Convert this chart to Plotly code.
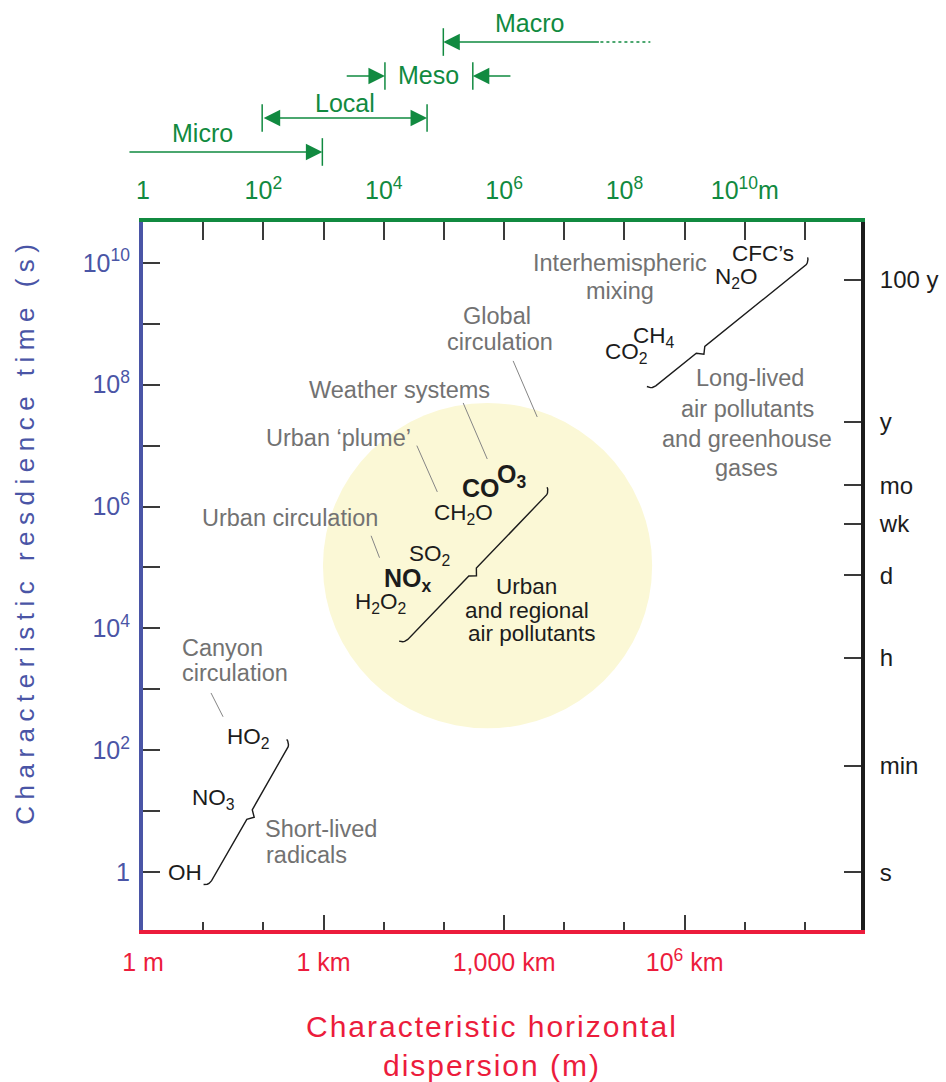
import numpy as np
import plotly.graph_objects as go

# ---------------- data (all positions in log10 units) ----------------
X_RANGE = [0, 11.93]          # log10 of horizontal dispersion (m)
Y_RANGE = [-0.95, 10.67]      # log10 of residence time (s)

bottom_tick_vals = [0, 3, 6, 9]
bottom_tick_text = ["1 m", "1 km", "1,000 km", "10<sup>6</sup> km"]

top_tick_vals = list(range(0, 12))
top_tick_text = ["1", "", "10<sup>2</sup>", "", "10<sup>4</sup>", "", "10<sup>6</sup>", "",
                 "10<sup>8</sup>", "", "10<sup>10</sup>m", ""]

left_tick_vals = [0, 2, 4, 6, 8, 10]
left_tick_text = ["1", "10<sup>2</sup>", "10<sup>4</sup>", "10<sup>6</sup>", "10<sup>8</sup>", "10<sup>10</sup>"]

right_tick_vals = [0, 1.745, 3.52, 4.87, 5.72, 6.35, 7.39, 9.72]
right_tick_text = ["s", "min", "h", "d", "wk", "mo", "y", "100 y"]

species_text = ["CFC’s", "N<sub>2</sub>O", "CH<sub>4</sub>", "CO<sub>2</sub>", "CO", "O<sub>3</sub>",
                "CH<sub>2</sub>O", "SO<sub>2</sub>", "NO<sub>x</sub>", "H<sub>2</sub>O<sub>2</sub>",
                "HO<sub>2</sub>", "NO<sub>3</sub>", "OH"]
species_x = [10.30, 9.86, 8.49, 8.04, 5.62, 6.12, 5.32, 4.76, 4.40, 3.94, 1.75, 1.17, 0.70]
species_y = [10.16, 9.75, 8.78, 8.52, 6.31, 6.50, 5.88, 5.21, 4.79, 4.42, 2.20, 1.20, 0.0]
bold_species = {"CO", "O<sub>3</sub>", "NO<sub>x</sub>"}

# process / group labels, one entry per text line
label_text = ["Interhemispheric", "mixing", "Global", "circulation", "Weather systems",
              "Urban ‘plume’", "Urban circulation", "Canyon", "circulation",
              "Short-lived", "radicals",
              "Urban", "and regional", "air pollutants",
              "Long-lived", "air pollutants", "and greenhouse", "gases"]
label_x = [7.92, 7.93, 5.88, 5.93, 4.27, 3.24, 2.45, 0.62, 0.62, 2.00, 2.01,
           6.38, 6.38, 6.47, 10.08, 10.05, 10.03, 10.03]
label_y = [10.00, 9.54, 9.13, 8.70, 7.91, 7.13, 5.81, 3.68, 3.27, 0.70, 0.28,
           4.68, 4.29, 3.92, 8.11, 7.60, 7.11, 6.63]
label_anchor = ["center"] * 7 + ["left"] * 4 + ["center"] * 7
label_dark = [False] * 11 + [True] * 3 + [False] * 4

leader_x0 = [6.15, 5.32, 4.55, 3.79, 1.13]
leader_y0 = [8.39, 7.70, 7.00, 5.52, 2.94]
leader_x1 = [6.55, 5.72, 4.89, 3.93, 1.33]
leader_y1 = [7.47, 6.78, 6.24, 5.16, 2.55]

group_x0 = [1.14, 4.40, 8.52]
group_y0 = [-0.14, 3.82, 7.98]
group_x1 = [2.40, 6.69, 11.00]
group_y1 = [2.03, 6.17, 9.95]
group_notch = [0.50, 0.47, 0.30]

urban_zone_x = [2.99, 8.46]
urban_zone_y = [2.36, 7.70]

scale_names = ["Micro", "Local", "Meso", "Macro"]
scale_label_x = [0.99, 3.36, 4.74, 6.43]
scale_from = [-0.25, 1.98, 4.02, 4.99]
scale_to = [2.98, 4.72, 5.48, 7.60]
meso_outer = [3.36, 6.13]
macro_dotted_end = 8.43

# ---------------- styles ----------------
FONT = "Liberation Sans, Arial, Helvetica, sans-serif"
BLUE = "#4a55a6"
RED = "#ec1c3c"
GREEN = "#118a40"
BLACK = "#1c1c1c"
GRAY = "#727272"
TICK = "#3a3a3a"
YELLOW = "#fbf8d6"


def brace(p0, p1, frac, hook=0.13, tip=0.09):
    p0 = np.asarray(p0, float)
    p1 = np.asarray(p1, float)
    d = p1 - p0
    u = d / np.hypot(*d)
    n = np.array([-u[1], u[0]])
    pts = []
    for th in np.linspace(np.pi / 2.6, 0, 6):
        pts.append(p0 + hook * (-u * np.sin(th) + n * (1 - np.cos(th))))
    m = p0 + frac * d
    pts += [m - tip * u, m - tip * n, m + tip * u]
    for th in np.linspace(0, np.pi / 2.6, 6):
        pts.append(p1 + hook * (u * np.sin(th) + n * (1 - np.cos(th))))
    pts = np.array(pts)
    return pts[:, 0], pts[:, 1]


fig = go.Figure()

for i in range(len(group_x0)):
    bx, by = brace((group_x0[i], group_y0[i]), (group_x1[i], group_y1[i]), group_notch[i])
    fig.add_trace(go.Scatter(x=bx, y=by, mode="lines", line=dict(color=BLACK, width=1.4),
                             hoverinfo="skip", showlegend=False))

# invisible trace so the overlay axes exist
fig.add_trace(go.Scatter(x=[X_RANGE[0]], y=[Y_RANGE[0]], xaxis="x2", yaxis="y2", mode="markers",
                         marker=dict(opacity=0), hoverinfo="skip", showlegend=False))

shapes = []
shapes.append(dict(type="circle", xref="x", yref="y", x0=urban_zone_x[0], x1=urban_zone_x[1],
                   y0=urban_zone_y[0], y1=urban_zone_y[1], fillcolor=YELLOW,
                   line=dict(width=0), layer="below"))
for i in range(len(leader_x0)):
    shapes.append(dict(type="line", xref="x", yref="y", x0=leader_x0[i], y0=leader_y0[i],
                       x1=leader_x1[i], y1=leader_y1[i], line=dict(color="#858585", width=1)))

annotations = []
for t, x, y in zip(species_text, species_x, species_y):
    bold = t in bold_species
    annotations.append(dict(x=x, y=y, xref="x", yref="y", showarrow=False,
                            xanchor="center", yanchor="middle",
                            text=f"<b>{t}</b>" if bold else t,
                            font=dict(family=FONT, size=25 if bold else 22.5, color=BLACK)))
for t, x, y, a, dk in zip(label_text, label_x, label_y, label_anchor, label_dark):
    annotations.append(dict(x=x, y=y, xref="x", yref="y", showarrow=False, text=t,
                            xanchor=a, yanchor="middle", align=a,
                            font=dict(family=FONT, size=23.5 if not dk else 22.5,
                                      color=BLACK if dk else GRAY)))

# ---------------- scale bands above the top axis ----------------
label_py = [1.1257, 1.1681, 1.2076, 1.2811]
line_py = [1.0989, 1.1469, 1.2062, 1.2542]
bar_half = 0.0195
for i, name in enumerate(scale_names):
    annotations.append(dict(x=scale_label_x[i], y=label_py[i], xref="x", yref="paper",
                            showarrow=False, text=name, xanchor="center", yanchor="middle",
                            font=dict(family=FONT, size=25, color=GREEN)))

arrow_common = dict(yref="paper", xref="x", axref="x", ayref="pixel", ay=0, text="",
                    showarrow=True, arrowhead=2, arrowsize=2.2, arrowwidth=1.5,
                    arrowcolor=GREEN, standoff=0, startstandoff=0)
annotations.append(dict(x=scale_to[0], ax=scale_from[0], y=line_py[0], **arrow_common))
annotations.append(dict(x=scale_to[1], ax=scale_from[1], y=line_py[1], arrowside="end+start",
                        **arrow_common))
annotations.append(dict(x=scale_from[2], ax=meso_outer[0], y=line_py[2], **arrow_common))
annotations.append(dict(x=scale_to[2], ax=meso_outer[1], y=line_py[2], **arrow_common))
annotations.append(dict(x=scale_from[3], ax=scale_to[3], y=line_py[3], **arrow_common))
shapes.append(dict(type="line", xref="x", yref="paper", x0=scale_to[3], x1=macro_dotted_end,
                   y0=line_py[3], y1=line_py[3], line=dict(color=GREEN, width=1.5, dash="dot")))

bars = [(scale_to[0], 0), (scale_from[1], 1), (scale_to[1], 1), (scale_from[2], 2),
        (scale_to[2], 2), (scale_from[3], 3)]
for bx, k in bars:
    shapes.append(dict(type="line", xref="x", yref="paper", x0=bx, x1=bx,
                       y0=line_py[k] - bar_half, y1=line_py[k] + bar_half,
                       line=dict(color=GREEN, width=1.5)))

# axis titles
annotations.append(dict(x=-0.165, y=0.5636, xref="paper", yref="paper", showarrow=False,
                        xanchor="center", yanchor="middle",
                        text="Characteristic resdience time (s)", textangle=-90,
                        font=dict(family=FONT, size=26, color=BLUE)))
annotations.append(dict(x=0.486, y=-0.137, xref="paper", yref="paper", showarrow=False,
                        xanchor="center", yanchor="middle",
                        text="Characteristic horizontal",
                        font=dict(family=FONT, size=30, color=RED)))
annotations.append(dict(x=0.486, y=-0.191, xref="paper", yref="paper", showarrow=False,
                        xanchor="center", yanchor="middle",
                        text="dispersion (m)",
                        font=dict(family=FONT, size=30, color=RED)))

axis_common = dict(showgrid=False, zeroline=False, showline=True, linewidth=4,
                   ticks="inside", tickcolor=TICK, tickwidth=1.5, autorange=False,
                   fixedrange=True, automargin=False)

fig.update_layout(
    width=946, height=1082, autosize=False,
    margin=dict(l=143, r=85, t=222, b=152, autoexpand=False),
    paper_bgcolor="white", plot_bgcolor="white",
    showlegend=False,
    font=dict(family=FONT),
    xaxis=dict(range=X_RANGE, tickmode="array", tickvals=bottom_tick_vals,
               ticktext=bottom_tick_text, ticklen=15, linecolor=RED,
               tickfont=dict(family=FONT, size=25, color=RED), ticklabelstandoff=7,
               minor=dict(tick0=0, dtick=1, ticklen=8, ticks="inside", tickcolor=TICK,
                          tickwidth=1.5),
               **axis_common),
    xaxis2=dict(range=X_RANGE, overlaying="x", side="top", anchor="y", tickmode="array",
                tickvals=top_tick_vals, ticktext=top_tick_text, ticklen=18, linecolor=GREEN,
                tickfont=dict(family=FONT, size=25, color=GREEN), ticklabelstandoff=9,
                **axis_common),
    yaxis=dict(range=Y_RANGE, tickmode="array", tickvals=left_tick_vals,
               ticktext=left_tick_text, ticklen=17, linecolor=BLUE,
               tickfont=dict(family=FONT, size=25, color=BLUE), ticklabelstandoff=4,
               minor=dict(tick0=0, dtick=1, ticklen=17, ticks="inside", tickcolor=TICK,
                          tickwidth=1.5),
               **axis_common),
    yaxis2=dict(range=Y_RANGE, overlaying="y", side="right", anchor="x", tickmode="array",
                tickvals=right_tick_vals, ticktext=right_tick_text, ticklen=17,
                linecolor=BLACK, tickfont=dict(family=FONT, size=24, color=BLACK),
                ticklabelstandoff=10, **axis_common),
    shapes=shapes,
    annotations=annotations,
)

post = """
document.body.style.margin = '0';
document.body.style.overflow = 'hidden';
var gd = document.getElementById('{plot_id}');
function spaceTitles(){
  gd.querySelectorAll('text.annotation-text').forEach(function(t){
    var s = t.textContent;
    if (s.indexOf('resdience') >= 0) { t.style.letterSpacing = '6.5px'; }
    else if (s.indexOf('Characteristic horizontal') >= 0 || s.indexOf('dispersion') >= 0) { t.style.letterSpacing = '2px'; }
  });
}
spaceTitles();
gd.on('plotly_afterplot', spaceTitles);
"""

fig.write_html("out.html", post_script=post, config={"displayModeBar": False})
